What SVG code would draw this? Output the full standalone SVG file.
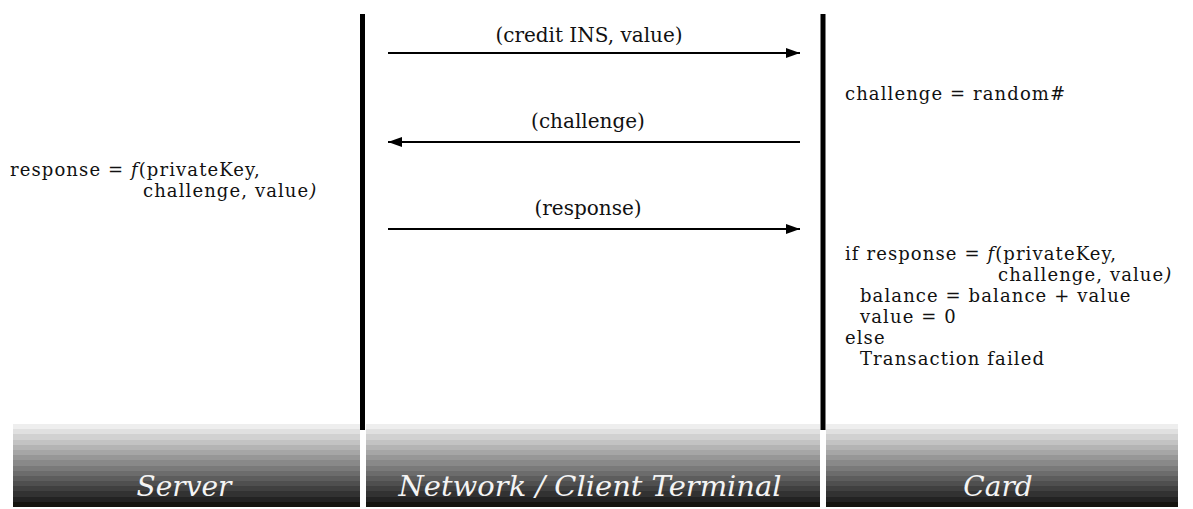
<svg xmlns="http://www.w3.org/2000/svg" width="1193" height="509" viewBox="0 0 1193 509">
  <defs>
    <style>
      .txt { font-family: "DejaVu Serif", "Liberation Serif", serif; font-size: 18px; letter-spacing: 1.1px; fill: #111; }
      .it { font-style: italic; }
      .msg { font-family: "DejaVu Serif", "Liberation Serif", serif; font-size: 20px; fill: #111; text-anchor: middle; }
      .band-label { font-family: "DejaVu Serif", "Liberation Serif", serif; font-style: italic; font-size: 28px; fill: #f4f4f4; text-anchor: middle; }
      .lifeline { stroke: #000; stroke-width: 5; }
      .arrow { stroke: #000; stroke-width: 2; fill: none; marker-end: url(#head); }
    </style>
    <marker id="head" viewBox="0 0 14 10" refX="14" refY="5" markerWidth="14" markerHeight="10" markerUnits="userSpaceOnUse" orient="auto">
      <path d="M0,0 L14,5 L0,10 Z" fill="#000"/>
    </marker>
    <!-- stepped grey shading used by the column footers -->
    <linearGradient id="shade" x1="0" y1="0" x2="0" y2="1">
      <stop offset="0" stop-color="#eeeeee"/><stop offset="0.0625" stop-color="#eeeeee"/>
      <stop offset="0.0625" stop-color="#e0e0e0"/><stop offset="0.125" stop-color="#e0e0e0"/>
      <stop offset="0.125" stop-color="#d1d1d1"/><stop offset="0.1875" stop-color="#d1d1d1"/>
      <stop offset="0.1875" stop-color="#c3c3c3"/><stop offset="0.25" stop-color="#c3c3c3"/>
      <stop offset="0.25" stop-color="#b4b4b4"/><stop offset="0.3125" stop-color="#b4b4b4"/>
      <stop offset="0.3125" stop-color="#a6a6a6"/><stop offset="0.375" stop-color="#a6a6a6"/>
      <stop offset="0.375" stop-color="#979797"/><stop offset="0.4375" stop-color="#979797"/>
      <stop offset="0.4375" stop-color="#898989"/><stop offset="0.5" stop-color="#898989"/>
      <stop offset="0.5" stop-color="#7a7a7a"/><stop offset="0.5625" stop-color="#7a7a7a"/>
      <stop offset="0.5625" stop-color="#6c6c6c"/><stop offset="0.625" stop-color="#6c6c6c"/>
      <stop offset="0.625" stop-color="#5d5d5d"/><stop offset="0.6875" stop-color="#5d5d5d"/>
      <stop offset="0.6875" stop-color="#4f4f4f"/><stop offset="0.75" stop-color="#4f4f4f"/>
      <stop offset="0.75" stop-color="#404040"/><stop offset="0.8125" stop-color="#404040"/>
      <stop offset="0.8125" stop-color="#323232"/><stop offset="0.875" stop-color="#323232"/>
      <stop offset="0.875" stop-color="#232323"/><stop offset="0.9375" stop-color="#232323"/>
      <stop offset="0.9375" stop-color="#151510"/><stop offset="1" stop-color="#151510"/>
    </linearGradient>
  </defs>

  <rect x="0" y="0" width="1193" height="509" fill="#ffffff"/>

  <!-- column footers and per-party notes -->
  <g id="server">
    <rect x="13" y="424" width="347" height="83" fill="url(#shade)"/>
    <text class="band-label" x="184" y="496">Server</text>
    <text class="txt" x="10" y="176">response = <tspan class="it">f</tspan>(privateKey,</text>
    <text class="txt" x="143" y="197">challenge, value<tspan class="it">)</tspan></text>
  </g>

  <g id="terminal">
    <rect x="366" y="424" width="454" height="83" fill="url(#shade)"/>
    <text class="band-label" x="590" y="496" textLength="383" lengthAdjust="spacingAndGlyphs">Network / Client Terminal</text>
  </g>

  <g id="card">
    <rect x="826" y="424" width="352" height="83" fill="url(#shade)"/>
    <text class="band-label" x="998" y="496">Card</text>
    <text class="txt" x="845" y="100">challenge = random#</text>
    <text class="txt" x="845" y="260">if response = <tspan class="it">f</tspan>(privateKey,</text>
    <text class="txt" x="998" y="281">challenge, value<tspan class="it">)</tspan></text>
    <text class="txt" x="860" y="302">balance = balance + value</text>
    <text class="txt" x="860" y="323">value = 0</text>
    <text class="txt" x="845" y="344">else</text>
    <text class="txt" x="860" y="365">Transaction failed</text>
  </g>

  <!-- lifelines and messages -->
  <g id="connectors">
    <line class="lifeline" x1="362.5" y1="14" x2="362.5" y2="430"/>
    <line class="lifeline" x1="823" y1="14" x2="823" y2="430"/>

    <line class="arrow" x1="388" y1="53" x2="800" y2="53"/>
    <text class="msg" x="589" y="42">(credit INS, value)</text>

    <line class="arrow" x1="800" y1="142" x2="388" y2="142"/>
    <text class="msg" x="588" y="128">(challenge)</text>

    <line class="arrow" x1="388" y1="229" x2="800" y2="229"/>
    <text class="msg" x="588" y="215">(response)</text>
  </g>
</svg>
